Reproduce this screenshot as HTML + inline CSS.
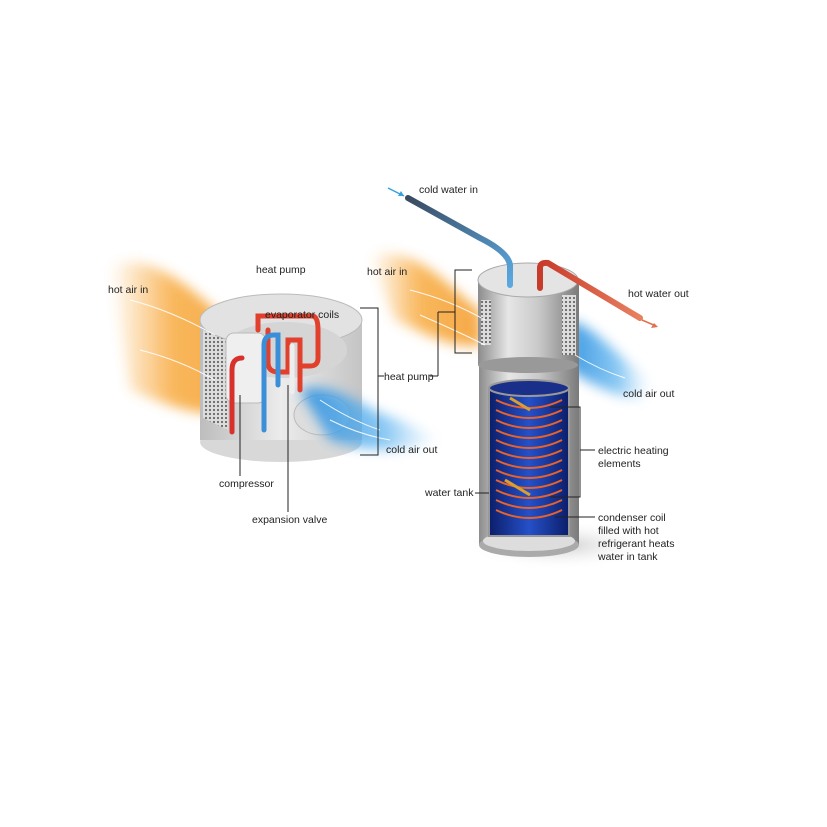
<!DOCTYPE html>
<html><head><meta charset="utf-8"><style>
html,body{margin:0;padding:0;background:#fff}
svg{display:block}
text{font-family:"Liberation Sans",sans-serif;font-size:10.5px;fill:#222}
</style></head><body>
<svg width="827" height="827" viewBox="0 0 827 827" xmlns="http://www.w3.org/2000/svg">
<defs>
<filter id="blur" x="-20%" y="-20%" width="140%" height="140%"><feGaussianBlur stdDeviation="6"/></filter>
<linearGradient id="orL" x1="0" x2="1"><stop offset="0" stop-color="#f7a12a" stop-opacity="0"/><stop offset="0.45" stop-color="#f7a12a" stop-opacity="0.9"/><stop offset="1" stop-color="#f39a25"/></linearGradient>
<linearGradient id="blR" x1="0" x2="1"><stop offset="0" stop-color="#2a8fe0"/><stop offset="0.6" stop-color="#5ab2ef" stop-opacity="0.8"/><stop offset="1" stop-color="#9fd3f7" stop-opacity="0"/></linearGradient>
<linearGradient id="cyl" x1="0" x2="1"><stop offset="0" stop-color="#8c8c8c"/><stop offset="0.3" stop-color="#e6e6e6"/><stop offset="0.6" stop-color="#c9c9c9"/><stop offset="1" stop-color="#7a7a7a"/></linearGradient>
<linearGradient id="cylL" x1="0" x2="1"><stop offset="0" stop-color="#bdbdbd"/><stop offset="0.5" stop-color="#ececec"/><stop offset="1" stop-color="#c4c4c4"/></linearGradient>
<linearGradient id="tankIn" x1="0" x2="1"><stop offset="0" stop-color="#0c1e6a"/><stop offset="0.5" stop-color="#2550c8"/><stop offset="1" stop-color="#0c1e6a"/></linearGradient>
<linearGradient id="pipeB" x1="0" x2="1" y1="0" y2="1"><stop offset="0" stop-color="#3a4a60"/><stop offset="1" stop-color="#5aa8e0"/></linearGradient>
<linearGradient id="pipeR" x1="0" x2="1"><stop offset="0" stop-color="#c83a2a"/><stop offset="1" stop-color="#e88060"/></linearGradient>
<radialGradient id="shadow"><stop offset="0" stop-color="#ccc"/><stop offset="1" stop-color="#fff" stop-opacity="0"/></radialGradient>
<pattern id="mesh" width="4" height="4" patternUnits="userSpaceOnUse"><rect width="4" height="4" fill="#ddd"/><circle cx="2" cy="2" r="1.1" fill="#666"/></pattern>
</defs>

<!-- LEFT UNIT -->
<path d="M110 265 C160 250,200 300,240 330 L250 405 C210 425,170 405,130 390 Z" fill="url(#orL)" opacity="0.85" filter="url(#blur)"/>
<ellipse cx="282" cy="440" rx="85" ry="22" fill="url(#shadow)"/>
<ellipse cx="281" cy="442" rx="81" ry="20" fill="#d8d8d8"/>
<rect x="200" y="320" width="162" height="120" fill="url(#cylL)"/>
<path d="M203 330 L228 338 L228 430 L203 418 Z" fill="url(#mesh)"/>
<ellipse cx="281" cy="320" rx="81" ry="26" fill="#e2e2e2" stroke="#bbb"/>
<ellipse cx="285" cy="350" rx="62" ry="28" fill="#d5d5d5"/>
<rect x="226" y="333" width="40" height="70" rx="8" fill="#efefef" stroke="#bbb"/>
<ellipse cx="322" cy="415" rx="28" ry="20" fill="#ddd" stroke="#bbb"/>
<path d="M300 390 C340 380,360 410,400 420 L440 440 C400 455,360 450,330 440 Z" fill="url(#blR)" opacity="0.9" filter="url(#blur)"/>
<g fill="none" stroke-linecap="round" stroke-width="5">
<path d="M232 432 L232 370 Q232 358 242 358" stroke="#d8302a"/>
<path d="M258 330 L258 316 L312 316 Q318 316 318 330 L318 358 Q318 366 310 366 L300 366" stroke="#e0402c"/>
<path d="M268 330 L268 362 Q268 372 278 372 L288 372 L288 340 L300 340 L300 390" stroke="#e0402c"/>
<path d="M264 430 L264 345 Q264 335 274 335 L278 335 L278 385" stroke="#3b8fd8"/>
<path d="M292 392 L292 346" stroke="#eee"/>
</g>
<g stroke="#fff" stroke-width="1" fill="none" opacity="0.9">
<path d="M130 300 Q170 310 215 335"/><path d="M140 350 Q180 360 215 380"/><path d="M320 400 Q350 420 380 430"/><path d="M330 420 Q360 435 390 440"/>
</g>
<text x="256" y="273">heat pump</text>
<text x="108" y="293">hot air in</text>
<text x="265" y="318">evaporator coils</text>
<text x="384" y="380">heat pump</text>
<text x="386" y="453">cold air out</text>
<text x="219" y="487">compressor</text>
<text x="252" y="523">expansion valve</text>
<g stroke="#222" stroke-width="1" fill="none">
<path d="M360 308 L378 308 L378 455 L360 455"/>
<line x1="378" y1="376" x2="384" y2="376"/>
<line x1="240" y1="395" x2="240" y2="476"/>
<line x1="288" y1="385" x2="288" y2="512"/>
</g>

<!-- RIGHT UNIT -->
<path d="M370 255 C420 245,450 290,480 310 L482 345 C450 350,420 330,395 320 Z" fill="url(#orL)" opacity="0.85" filter="url(#blur)"/>
<path d="M570 320 C600 330,620 360,650 380 L640 400 C610 395,585 380,570 370 Z" fill="url(#blR)" opacity="0.9" filter="url(#blur)"/>
<ellipse cx="560" cy="545" rx="95" ry="25" fill="url(#shadow)"/>
<rect x="479" y="365" width="100" height="180" fill="url(#cyl)"/>
<ellipse cx="529" cy="545" rx="50" ry="12" fill="#aaa"/>
<ellipse cx="529" cy="541" rx="46" ry="10" fill="#ddd"/>
<rect x="489" y="388" width="80" height="148" fill="url(#tankIn)" stroke="#999" stroke-width="2"/>
<ellipse cx="529" cy="388" rx="40" ry="8" fill="#1a2f8a" stroke="#999" stroke-width="2"/>
<g fill="none" stroke="#e8622a" stroke-width="2">
<path d="M496 400 Q529 416 562 400"/><path d="M496 410 Q529 426 562 410"/><path d="M496 420 Q529 436 562 420"/><path d="M496 430 Q529 446 562 430"/><path d="M496 440 Q529 456 562 440"/><path d="M496 450 Q529 466 562 450"/><path d="M496 460 Q529 476 562 460"/><path d="M496 470 Q529 486 562 470"/><path d="M496 480 Q529 496 562 480"/><path d="M496 490 Q529 506 562 490"/><path d="M496 500 Q529 516 562 500"/><path d="M496 510 Q529 526 562 510"/>
</g>
<g stroke="#d9a030" stroke-width="3"><line x1="510" y1="398" x2="530" y2="410"/><line x1="505" y1="480" x2="530" y2="495"/></g>
<rect x="478" y="280" width="101" height="85" fill="url(#cyl)"/>
<rect x="562" y="295" width="14" height="60" fill="url(#mesh)"/>
<rect x="481" y="300" width="10" height="45" fill="url(#mesh)"/>
<ellipse cx="528" cy="365" rx="50" ry="8" fill="#999"/>
<ellipse cx="528" cy="280" rx="50" ry="17" fill="#e4e4e4" stroke="#aaa"/>
<g fill="none" stroke-linecap="round" stroke-width="6">
<path d="M408 198 L480 238 Q508 252 510 265 L510 285" stroke="url(#pipeB)"/>
<path d="M540 288 L540 268 Q540 262 548 263 L640 318" stroke="url(#pipeR)"/>
</g>
<path d="M388 188 L404 196" stroke="#3aa0e0" stroke-width="1.5"/><path d="M404 196 l-6 0 l3 -5 z" fill="#3aa0e0"/>
<path d="M642 320 L656 326" stroke="#e07050" stroke-width="1.5"/><path d="M658 327 l-7 1 l3 -5z" fill="#e07050"/>
<g stroke="#fff" stroke-width="1" fill="none" opacity="0.9">
<path d="M410 290 Q450 300 485 320"/><path d="M420 315 Q455 330 485 345"/><path d="M575 355 Q600 370 625 378"/>
</g>
<text x="419" y="193">cold water in</text>
<text x="367" y="275">hot air in</text>
<text x="628" y="297">hot water out</text>
<text x="623" y="397">cold air out</text>
<text x="598" y="454">electric heating</text>
<text x="598" y="467">elements</text>
<text x="425" y="496">water tank</text>
<text x="598" y="521">condenser coil</text>
<text x="598" y="534">filled with hot</text>
<text x="598" y="547">refrigerant heats</text>
<text x="598" y="560">water in tank</text>
<g stroke="#222" stroke-width="1" fill="none">
<path d="M472 270 L455 270 L455 353 L472 353"/>
<line x1="438" y1="312" x2="455" y2="312"/><line x1="438" y1="312" x2="438" y2="376"/><line x1="438" y1="376" x2="430" y2="376"/>
<path d="M550 407 L580 407 L580 497 L550 497"/>
<line x1="580" y1="450" x2="595" y2="450"/>
<line x1="475" y1="493" x2="489" y2="493"/>
<line x1="555" y1="517" x2="595" y2="517"/>
</g>
</svg>
</body></html>
